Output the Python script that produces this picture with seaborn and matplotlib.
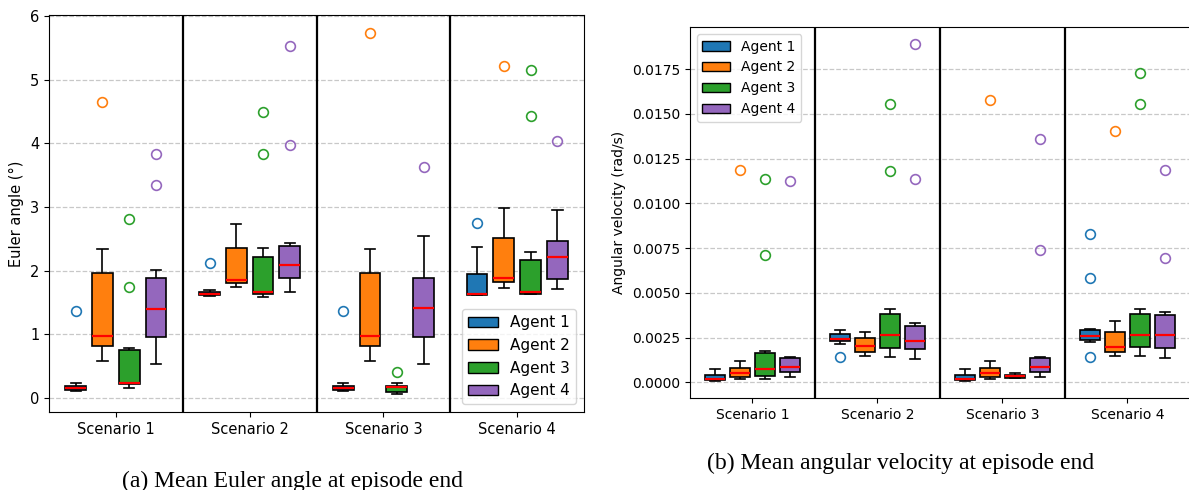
import pandas as pd
import matplotlib
matplotlib.use("Agg")
import matplotlib.pyplot as plt
from matplotlib.patches import Patch
import seaborn as sns

scenarios = ["Scenario 1", "Scenario 2", "Scenario 3", "Scenario 4"]
agents = ["Agent 1", "Agent 2", "Agent 3", "Agent 4"]
colors = ["#1f77b4", "#ff7f0e", "#2ca02c", "#9467bd"]

# Mean Euler angle (deg), samples per agent, one list per scenario
euler_a1 = [
    [0.115, 0.12, 0.13, 0.15, 0.16, 0.18, 0.19, 0.24, 1.37],
    [1.60, 1.605, 1.61, 1.62, 1.63, 1.645, 1.66, 1.69, 2.12],
    [0.115, 0.12, 0.13, 0.15, 0.16, 0.18, 0.19, 0.24, 1.37],
    [1.615, 1.618, 1.62, 1.63, 1.64, 1.80, 1.94, 2.37, 2.75],
]
euler_a2 = [
    [0.58, 0.70, 0.81, 0.90, 0.975, 1.50, 1.97, 2.34, 4.65],
    [1.75, 1.81, 1.86, 2.36, 2.74],
    [0.58, 0.70, 0.81, 0.90, 0.975, 1.50, 1.97, 2.34, 5.73],
    [1.73, 1.78, 1.82, 1.85, 1.89, 2.20, 2.52, 2.99, 5.21],
]
euler_a3 = [
    [0.16, 0.19, 0.21, 0.225, 0.228, 0.232, 0.235, 0.40, 0.60, 0.75, 0.78, 1.75, 2.81],
    [1.59, 1.61, 1.63, 1.64, 1.65, 1.66, 1.67, 1.85, 2.05, 2.22, 2.36, 3.83, 4.49],
    [0.06, 0.08, 0.10, 0.14, 0.177, 0.185, 0.193, 0.23, 0.40],
    [1.63, 1.635, 1.638, 1.64, 1.645, 1.652, 1.66, 1.80, 2.00, 2.16, 2.30, 4.43, 5.15],
]
euler_a4 = [
    [0.54, 0.70, 0.85, 0.96, 1.10, 1.25, 1.39, 1.55, 1.70, 1.88, 2.01, 3.35, 3.83],
    [1.67, 1.75, 1.82, 1.88, 1.95, 2.02, 2.09, 2.20, 2.30, 2.39, 2.44, 3.98, 5.53],
    [0.54, 0.75, 0.96, 1.20, 1.41, 1.65, 1.88, 2.54, 3.63],
    [1.71, 1.80, 1.87, 2.05, 2.22, 2.35, 2.47, 2.96, 4.03],
]

# Mean angular velocity (rad/s)
angvel_a1 = [
    [0.00010, 0.00013, 0.00017, 0.00043, 0.00072],
    [0.00139, 0.00215, 0.0023, 0.00238, 0.00245, 0.0026, 0.00273, 0.0028, 0.00291],
    [0.00007, 0.00013, 0.00017, 0.00043, 0.00072],
    [0.00141, 0.00226, 0.00232, 0.00239, 0.00245, 0.0025, 0.00258, 0.00268, 0.0028, 0.00293, 0.00299, 0.00583, 0.0083],
]
angvel_a2 = [
    [0.0002, 0.00024, 0.00028, 0.0004, 0.00052, 0.00067, 0.00082, 0.0012, 0.01188],
    [0.00148, 0.00167, 0.00204, 0.00249, 0.00282],
    [0.0002, 0.00024, 0.00028, 0.0004, 0.00052, 0.00067, 0.00082, 0.0012, 0.01577],
    [0.00147, 0.00157, 0.00167, 0.00183, 0.002, 0.0024, 0.0028, 0.00343, 0.01403],
]
angvel_a3 = [
    [0.00019, 0.00025, 0.00031, 0.00037, 0.0005, 0.00062, 0.00074, 0.001, 0.0013, 0.00163, 0.00178, 0.0071, 0.01134],
    [0.00143, 0.0016, 0.00177, 0.00193, 0.0022, 0.0024, 0.00265, 0.003, 0.0034, 0.00382, 0.00408, 0.0118, 0.01555],
    [0.00022, 0.00026, 0.00033, 0.00041, 0.00052],
    [0.0015, 0.0017, 0.00185, 0.00199, 0.0022, 0.0024, 0.00265, 0.003, 0.0034, 0.00382, 0.00408, 0.01555, 0.01731],
]
angvel_a4 = [
    [0.0003, 0.00043, 0.00056, 0.0007, 0.00084, 0.0011, 0.00135, 0.00143, 0.01123],
    [0.0013, 0.0015, 0.0017, 0.00186, 0.002, 0.00215, 0.00232, 0.0026, 0.0029, 0.00315, 0.00332, 0.01136, 0.01891],
    [0.0003, 0.0004, 0.00048, 0.00056, 0.00065, 0.00075, 0.00085, 0.001, 0.0012, 0.00137, 0.00143, 0.00742, 0.0136],
    [0.00134, 0.0016, 0.0018, 0.00193, 0.0021, 0.0024, 0.00262, 0.003, 0.0034, 0.00379, 0.00395, 0.00696, 0.01188],
]


def long_table(per_agent):
    rows = []
    for agent, per_scen in zip(agents, per_agent):
        for scen, vals in zip(scenarios, per_scen):
            for v in vals:
                rows.append((scen, agent, v))
    return pd.DataFrame(rows, columns=["scenario", "agent", "value"])


df_euler = long_table([euler_a1, euler_a2, euler_a3, euler_a4])
df_angvel = long_table([angvel_a1, angvel_a2, angvel_a3, angvel_a4])


def draw_panel(ax, df, fs):
    # one call per agent so each agent's outliers get its own colour
    for i, agent in enumerate(agents):
        sub = df[df["agent"] == agent]
        sns.boxplot(data=sub, x="scenario", y="value", hue="agent",
                    order=scenarios, hue_order=agents, palette=colors,
                    saturation=1, width=0.8, gap=0.22, dodge=True,
                    linecolor="black", linewidth=1.2,
                    medianprops=dict(color="red", linewidth=1.6),
                    flierprops=dict(marker="o", markerfacecolor="none",
                                    markeredgecolor=colors[i], markersize=7,
                                    markeredgewidth=1.2),
                    legend=False, ax=ax)
    for xb in [0.5, 1.5, 2.5]:
        ax.axvline(xb, color="black", linewidth=1.6)
    ax.set_xlim(-0.5, 3.5)
    ax.yaxis.grid(True, linestyle="--", color="#c8c8c8", linewidth=0.9)
    ax.set_axisbelow(True)
    ax.set_xlabel("")
    ax.tick_params(labelsize=fs)


fig = plt.figure(figsize=(11.89, 4.9), dpi=100)
ax1 = fig.add_axes([0.0412, 0.159, 0.45, 0.810])
ax2 = fig.add_axes([0.5803, 0.1878, 0.4205, 0.757])

draw_panel(ax1, df_euler, 10.5)
ax1.set_ylabel("Euler angle (°)", fontsize=10.5)
handles = [Patch(facecolor=c, edgecolor="black", label=a) for a, c in zip(agents, colors)]
ax1.legend(handles=handles, loc="lower right", fontsize=11)

draw_panel(ax2, df_angvel, 10)
ax2.set_ylabel("Angular velocity (rad/s)", fontsize=10)
ax2.legend(handles=handles, loc="upper left", fontsize=10)

fig.text(0.2464, 0.018, "(a) Mean Euler angle at episode end",
         family="Liberation Serif", fontsize=17, ha="center", va="center")
fig.text(0.757, 0.055, "(b) Mean angular velocity at episode end",
         family="Liberation Serif", fontsize=17, ha="center", va="center")

fig.savefig("out.png", dpi=100)
